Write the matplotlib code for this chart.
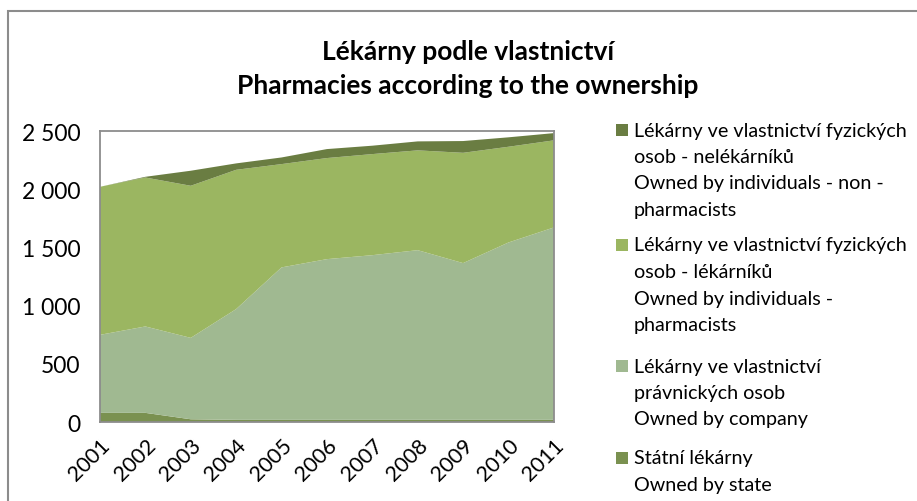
import matplotlib.pyplot as plt
from matplotlib.patches import Rectangle
from matplotlib.ticker import FuncFormatter

years = ["2001", "2002", "2003", "2004", "2005", "2006", "2007", "2008", "2009", "2010", "2011"]
state = [80, 80, 25, 20, 20, 20, 20, 20, 20, 20, 20]
company = [670, 742, 699, 951, 1309, 1380, 1414, 1457, 1346, 1523, 1652]
pharmacists = [1271, 1279, 1306, 1196, 887, 868, 868, 857, 947, 822, 748]
non_pharmacists = [0, 6, 129, 55, 57, 77, 72, 77, 101, 81, 62]

labels = [
    "Státní lékárny\nOwned by state",
    "Lékárny ve vlastnictví\nprávnických osob\nOwned by company",
    "Lékárny ve vlastnictví fyzických\nosob - lékárníků\nOwned by individuals -\npharmacists",
    "Lékárny ve vlastnictví fyzických\nosob - nelékárníků\nOwned by individuals - non -\npharmacists",
]
colors = ["#7a9150", "#a0b991", "#9bb661", "#6a7d42"]

plt.rcParams['font.family'] = ['Lato', 'DejaVu Sans']

W, H = 917, 502
fig = plt.figure(figsize=(W / 100, H / 100), dpi=100)
ax = fig.add_axes([0.109, 0.157, 0.495, 0.58])

x = list(range(len(years)))
ax.stackplot(x, state, company, pharmacists, non_pharmacists,
             colors=colors, labels=labels, linewidth=0)

ax.set_xlim(0, len(years) - 1)
ax.set_ylim(0, 2500)
ax.set_yticks([0, 500, 1000, 1500, 2000, 2500])
ax.yaxis.set_major_formatter(FuncFormatter(lambda v, p: f"{int(v):,}".replace(",", " ")))
ax.set_xticks(x)
ax.set_xticklabels(years, rotation=45, ha="right", rotation_mode="anchor")
ax.tick_params(length=0, labelsize=16.5)
ax.tick_params(axis="y", pad=14)
ax.tick_params(axis="x", pad=9, labelsize=15.5)
for s in ax.spines.values():
    s.set_color("#8c8c8c")
    s.set_linewidth(1.3)

fig.text(0.51, 1 - 52 / H, "Lékárny podle vlastnictví", ha="center", va="center",
         fontsize=19, fontweight="bold")
fig.text(0.51, 1 - 86 / H, "Pharmacies according to the ownership", ha="center", va="center",
         fontsize=19, fontweight="bold")

# legend, Excel style: square next to the first line of each entry
entry_top = [131, 246, 367, 459]
step = 26.5
for lab, col, y0 in zip(labels[::-1], colors[::-1], entry_top):
    fig.patches.append(Rectangle((616 / W, 1 - (y0 + 6) / H), 12 / W, 12 / H,
                                 transform=fig.transFigure, facecolor=col, edgecolor="none"))
    for i, line in enumerate(lab.split("\n")):
        fig.text(634 / W, 1 - (y0 + i * step) / H, line, ha="left", va="center",
                 fontsize=14.2)

fig.patches.append(Rectangle((0.009, -0.1), 1.1, 1.076, transform=fig.transFigure,
                             fill=False, edgecolor="#8c8c8c", linewidth=1.5))

fig.savefig("out.png", dpi=100)
